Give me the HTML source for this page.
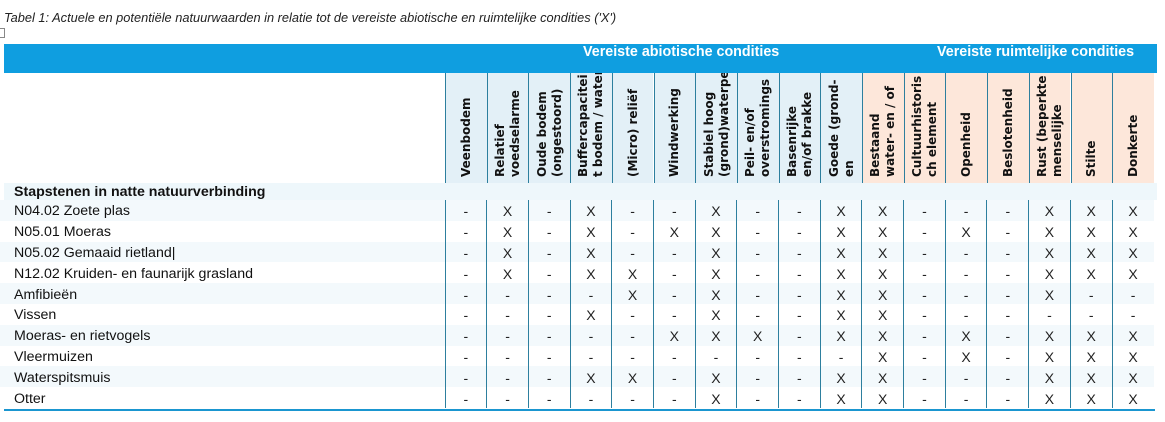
<!DOCTYPE html>
<html><head><meta charset="utf-8">
<style>
*{margin:0;padding:0;box-sizing:border-box}
body{width:1165px;height:422px;background:#fff;position:relative;overflow:hidden;font-family:"Liberation Sans",Arial,sans-serif;color:#111}
.title{position:absolute;left:4px;top:10px;font-size:12.8px;font-style:italic;color:#222;white-space:nowrap}
.box{position:absolute;left:0;top:28px;width:5px;height:10px;border:1px solid #888;border-left:none}
.bar{position:absolute;left:4px;top:44px;width:1153px;height:29px;background:#0f9ee0}
.gh{position:absolute;top:44px;color:#fff;font-weight:bold;font-size:14.3px;white-space:nowrap}
.hc{position:absolute;top:73px;height:110px;width:41.7px;border-left:1px solid #2d7f9e;overflow:hidden;display:flex;justify-content:center}
.hc span{writing-mode:vertical-rl;transform:rotate(180deg);font-family:"DejaVu Sans",Verdana,sans-serif;font-weight:bold;font-size:12px;line-height:15px;white-space:nowrap;padding-top:5px;height:109px;overflow:hidden;color:#111}
.ab{background:#e3f0f7}.sp{background:#fde7da}
.stap{position:absolute;left:4px;top:183px;width:1153px;height:17px;background:#eef7fb;font-weight:bold;font-size:14.2px;padding-left:10px;line-height:16px;padding-top:1px}
table{position:absolute;left:0;top:200px;border-collapse:collapse;table-layout:fixed}
td{height:20.8px;font-size:14.2px;padding:2px 0 0 0;white-space:nowrap}
td.l{width:445px;padding-left:14px}
td.c{width:41.7px;text-align:center;border-left:1px solid #2d7f9e;font-size:14px;color:#222}
tr:nth-child(odd){background:#f3f9fc}
.bl{position:absolute;left:4px;top:409px;width:1151px;height:2px;background:#1a96d0}
</style></head><body>
<div class="title">Tabel 1: Actuele en potentiële natuurwaarden in relatie tot de vereiste abiotische en ruimtelijke condities ('X')</div>
<div class="box"></div>
<div class="bar"></div>
<div class="gh" style="left:583px">Vereiste abiotische condities</div>
<div class="gh" style="left:937px">Vereiste ruimtelijke condities</div>

<div class="hc ab" style="left:445px"><span>Veenbodem</span></div>
<div class="hc ab" style="left:486.7px"><span>Relatief<br>voedselarme</span></div>
<div class="hc ab" style="left:528.4px"><span>Oude bodem<br>(ongestoord)</span></div>
<div class="hc ab" style="left:570.1px"><span>Buffercapacitei<br>t bodem / water</span></div>
<div class="hc ab" style="left:611.8px"><span>(Micro) reliëf</span></div>
<div class="hc ab" style="left:653.5px"><span>Windwerking</span></div>
<div class="hc ab" style="left:695.2px"><span>Stabiel hoog<br>(grond)waterpeil</span></div>
<div class="hc ab" style="left:736.9px"><span>Peil- en/of<br>overstromings</span></div>
<div class="hc ab" style="left:778.6px"><span>Basenrijke<br>en/of brakke</span></div>
<div class="hc ab" style="left:820.3px"><span>Goede (grond-<br>en</span></div>
<div class="hc sp" style="left:862px"><span>Bestaand<br>water- en / of</span></div>
<div class="hc sp" style="left:903.7px"><span>Cultuurhistoris<br>ch element</span></div>
<div class="hc sp" style="left:945.4px"><span>Openheid</span></div>
<div class="hc sp" style="left:987.1px"><span>Beslotenheid</span></div>
<div class="hc sp" style="left:1028.8px"><span>Rust (beperkte<br>menselijke</span></div>
<div class="hc sp" style="left:1070.5px"><span>Stilte</span></div>
<div class="hc sp" style="left:1112.2px"><span>Donkerte</span></div>

<div class="stap">Stapstenen in natte natuurverbinding</div>

<table>
<tr><td class="l">N04.02 Zoete plas</td><td class="c">-</td><td class="c">X</td><td class="c">-</td><td class="c">X</td><td class="c">-</td><td class="c">-</td><td class="c">X</td><td class="c">-</td><td class="c">-</td><td class="c">X</td><td class="c">X</td><td class="c">-</td><td class="c">-</td><td class="c">-</td><td class="c">X</td><td class="c">X</td><td class="c">X</td></tr>
<tr><td class="l">N05.01 Moeras</td><td class="c">-</td><td class="c">X</td><td class="c">-</td><td class="c">X</td><td class="c">-</td><td class="c">X</td><td class="c">X</td><td class="c">-</td><td class="c">-</td><td class="c">X</td><td class="c">X</td><td class="c">-</td><td class="c">X</td><td class="c">-</td><td class="c">X</td><td class="c">X</td><td class="c">X</td></tr>
<tr><td class="l">N05.02 Gemaaid rietland|</td><td class="c">-</td><td class="c">X</td><td class="c">-</td><td class="c">X</td><td class="c">-</td><td class="c">-</td><td class="c">X</td><td class="c">-</td><td class="c">-</td><td class="c">X</td><td class="c">X</td><td class="c">-</td><td class="c">-</td><td class="c">-</td><td class="c">X</td><td class="c">X</td><td class="c">X</td></tr>
<tr><td class="l">N12.02 Kruiden- en faunarijk grasland</td><td class="c">-</td><td class="c">X</td><td class="c">-</td><td class="c">X</td><td class="c">X</td><td class="c">-</td><td class="c">X</td><td class="c">-</td><td class="c">-</td><td class="c">X</td><td class="c">X</td><td class="c">-</td><td class="c">-</td><td class="c">-</td><td class="c">X</td><td class="c">X</td><td class="c">X</td></tr>
<tr><td class="l">Amfibieën</td><td class="c">-</td><td class="c">-</td><td class="c">-</td><td class="c">-</td><td class="c">X</td><td class="c">-</td><td class="c">X</td><td class="c">-</td><td class="c">-</td><td class="c">X</td><td class="c">X</td><td class="c">-</td><td class="c">-</td><td class="c">-</td><td class="c">X</td><td class="c">-</td><td class="c">-</td></tr>
<tr><td class="l">Vissen</td><td class="c">-</td><td class="c">-</td><td class="c">-</td><td class="c">X</td><td class="c">-</td><td class="c">-</td><td class="c">X</td><td class="c">-</td><td class="c">-</td><td class="c">X</td><td class="c">X</td><td class="c">-</td><td class="c">-</td><td class="c">-</td><td class="c">-</td><td class="c">-</td><td class="c">-</td></tr>
<tr><td class="l">Moeras- en rietvogels</td><td class="c">-</td><td class="c">-</td><td class="c">-</td><td class="c">-</td><td class="c">-</td><td class="c">X</td><td class="c">X</td><td class="c">X</td><td class="c">-</td><td class="c">X</td><td class="c">X</td><td class="c">-</td><td class="c">X</td><td class="c">-</td><td class="c">X</td><td class="c">X</td><td class="c">X</td></tr>
<tr><td class="l">Vleermuizen</td><td class="c">-</td><td class="c">-</td><td class="c">-</td><td class="c">-</td><td class="c">-</td><td class="c">-</td><td class="c">-</td><td class="c">-</td><td class="c">-</td><td class="c">-</td><td class="c">X</td><td class="c">-</td><td class="c">X</td><td class="c">-</td><td class="c">X</td><td class="c">X</td><td class="c">X</td></tr>
<tr><td class="l">Waterspitsmuis</td><td class="c">-</td><td class="c">-</td><td class="c">-</td><td class="c">X</td><td class="c">X</td><td class="c">-</td><td class="c">X</td><td class="c">-</td><td class="c">-</td><td class="c">X</td><td class="c">X</td><td class="c">-</td><td class="c">-</td><td class="c">-</td><td class="c">X</td><td class="c">X</td><td class="c">X</td></tr>
<tr><td class="l">Otter</td><td class="c">-</td><td class="c">-</td><td class="c">-</td><td class="c">-</td><td class="c">-</td><td class="c">-</td><td class="c">X</td><td class="c">-</td><td class="c">-</td><td class="c">X</td><td class="c">X</td><td class="c">-</td><td class="c">-</td><td class="c">-</td><td class="c">X</td><td class="c">X</td><td class="c">X</td></tr>
</table>
<div class="bl"></div>
</body></html>
